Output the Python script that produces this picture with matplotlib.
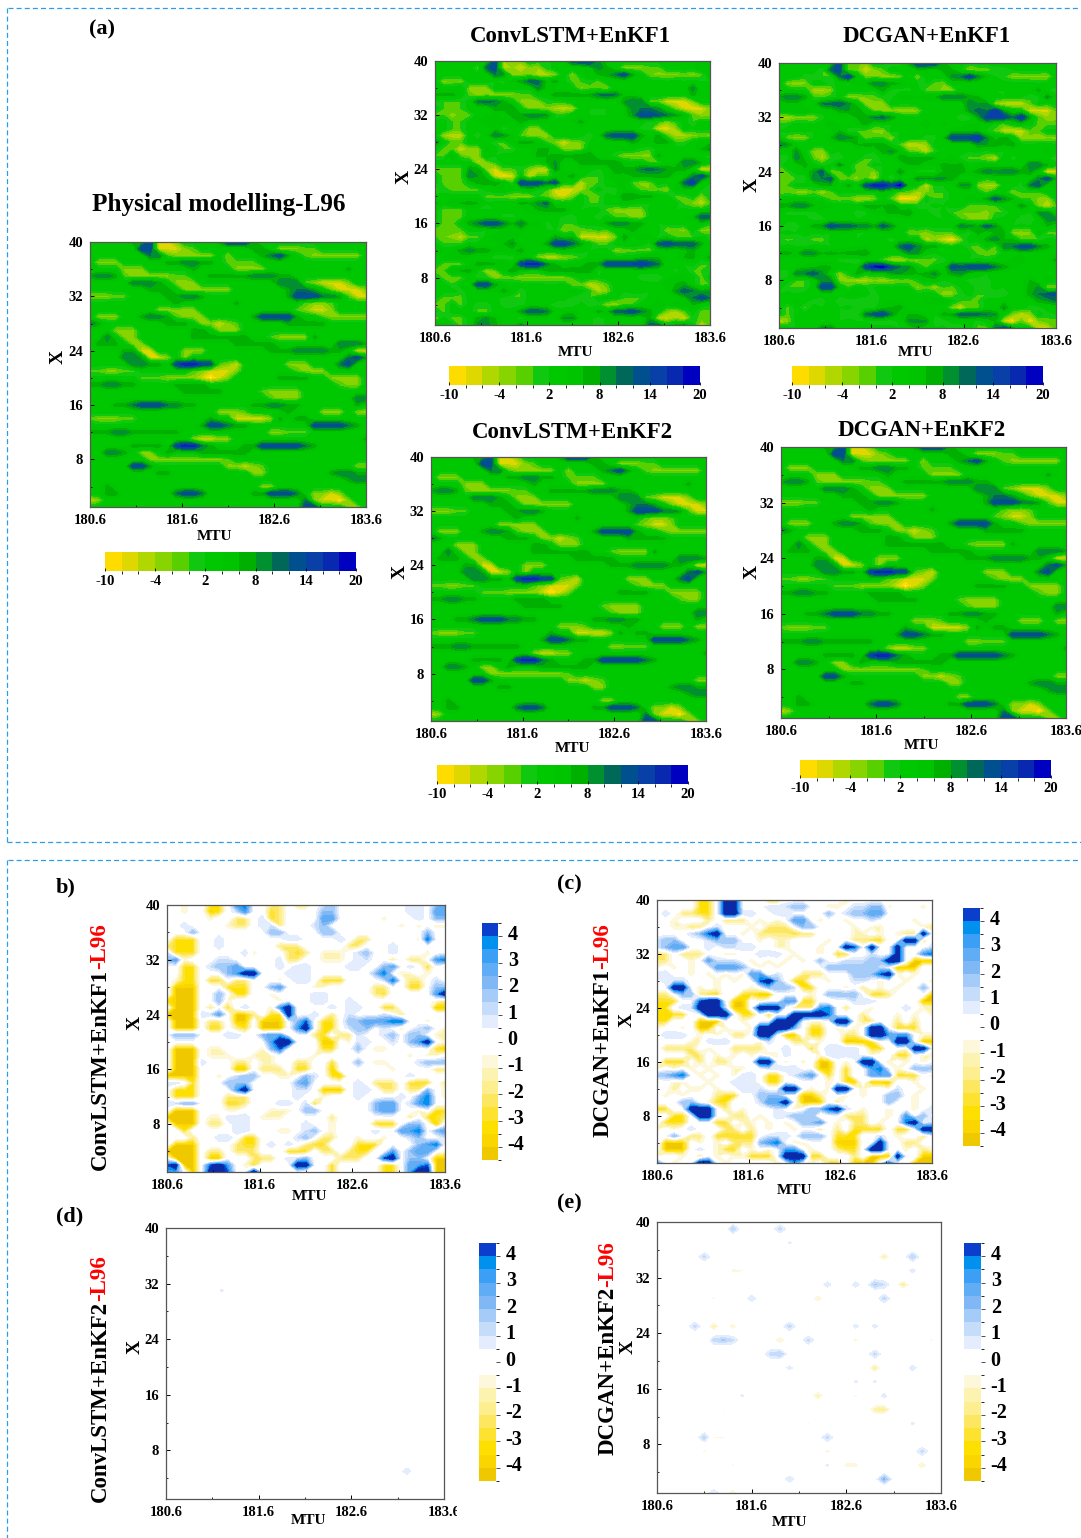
import numpy as np
import matplotlib
matplotlib.use("Agg")
import matplotlib.pyplot as plt
from matplotlib.colors import ListedColormap, BoundaryNorm
from matplotlib.cm import ScalarMappable
from matplotlib.lines import Line2D
from matplotlib.patches import Rectangle
from matplotlib.transforms import ScaledTranslation

plt.rcParams["font.family"] = ["Liberation Serif", "DejaVu Serif"]
plt.rcParams["font.weight"] = "bold"
plt.rcParams["axes.unicode_minus"] = False

W, H = 1081, 1538

# L96 state, rows X=40 down to X=1, 33 columns along MTU
truth_rows = [
    ".....ggbyyl....gbbbg.............",
    "......bbyyylm......gg.lllmm......",
    ".......ddmlllll.l...gdbg.mllllll.",
    ".lll.....ggddgg.mmmm.............",
    "....lll.....g....llll.........g..",
    "gddgmlllllmm..gggggdddgg.........",
    ".....dddg.lll.........dddmlyyyl..",
    ".......ggg.llllll......gddg.lyyyl",
    "lllmm....ggddg.........gbbbddgmyy",
    "..........g......g.......mllm....",
    "........lllll...........mlyyl....",
    ".lll..gddgmlll.....gbbbbg..mlllll",
    "dg.......ggg.llylm.....ggggg.....",
    "...lll......gg.lll...............",
    "..d.ll......ggggggg..mllllg......",
    ".ggg.ll..........ggggg.......dddg",
    "....ggyy...lll.......gggddddgg.yy",
    "....ddgyyl.l..................dbg",
    ".....ddgg.bBBbbmly.....lll...db..",
    "mmllmm......mlyyyl......mlll.....",
    "......mmmllllyYyl.....gggg..llll.",
    "ggddgg....gggg...............mll.",
    "...........ggggg....mllll........",
    ".....................mlll......dd",
    "...ggdbbbddgg......ggddgg......g.",
    "...............lllm....g...lll.ll",
    "mlllmm........g..yyyylg.gg.......",
    ".............gbbdgg.......bbbbdg.",
    "gggddgggggg..........llmmm.......",
    "............lyyll...............g",
    ".....gggg.bBBdg...ggbbbbbdg......",
    "..ddg.ll.g...gggggg..............",
    ".......lllllllllm................",
    ".....bbg........llylm..........ll",
    "........gg.........ll.......gddgg",
    "..............................gdd",
    "..g.................ll...........",
    "..gg......dbbd.....ggbbbd.llyl...",
    "yl.......................dlyyYl..",
    ".........................bb...ll.",
]
truth_codes = {".": 3, "m": -1, "l": -3, "y": -7, "Y": -11, "g": 7, "d": 10, "b": 14, "B": 18}

# ConvLSTM+EnKF1 minus L96
diff_b_rows = [
    "..a..cc.34..bb.bb.12........11.23",
    "..a..dc.13..cb....22........11.33",
    ".....a..bb.1cb....33.....a...1.22",
    "..1....abb.11b...12........a.a.aa",
    "...2........22....22..........2..",
    ".ccc..1.......11....1.bb.....a4..",
    "bccc..1......bbb.....bb...1......",
    "1ccc.....1a...bcb.aaa.12..1...a..",
    "23a...11.....1bb..aaa.11..b.bb.34",
    "..cc.1223....1.11....11..23.1.c.a",
    "..cc...2355...111.......24.aa.a..",
    ".acc.cc.bb...a.11.ccc....14.bb.1.",
    ".ddd...ccc..23...aa.....bb..cc.22",
    ".ddd..2.cc..a....11.....bc.....35",
    "cddd..2a.....a...11..1.........ab",
    ".ddd.b.c.1..a35....1.11..cc....dd",
    "dddd113.ddb.cc5..1.b.1...1.b.....",
    ".ddd.bb.dd.ddd.24.cc.2233344..a..",
    ".ddd.cc.bc.ddd.35.cc.122.1.a.12.a",
    ".222...11..233...bc.bb1..12.22.aa",
    "............355...dd.a11..1.235.a",
    ".ddd.aa....a24....cc..2.aa.....cd",
    ".ddd.aaa..aaa....a..........a.aa.",
    ".ddd1...bb.aa..bb..c..2.aa...1222",
    ".ddd....dd.bbb.cc..d......a....bb",
    "dddd..a.122..aa.21.cd.......1....",
    "11.c...222.....23.....1.bbb.ccc.b",
    ".ccc....35.....11.ddd.11.bb.bb2.a",
    ".ccc...bbb.....1..a...1....1.24.a",
    "1122...ccb...11.1c......233.134..",
    ".ddd...aa...aaa.22......233..a.cc",
    "dddd.aa111.aaa.....b........b.ccb",
    ".ddd.bb.11......1..a....ccc.22.d.",
    "..c.....11...aa.12.a....1..334.23",
    "...b..11.cc....12.bb..a..a..12..1",
    ".ddd....bcc.1.1.bcc...ccc....234.",
    "dddd.bb.bbb...ccc.bb.bcc..3.233.a",
    ".ddd.dd...bbb.112...bbb..45.22.dd",
    "45dd.453.ac....55..c.....cc.334dd",
    "33.d.554..5.....a..c.....cc.355dd",
]

# DCGAN+EnKF1 minus L96
diff_c_rows = [
    ".....cc.55...cc.......b..........",
    ".....cc.55...11122..aa.1122a...a.",
    ".1.bbcc.5511..11....2.12233......",
    "..a...b.bbb.a.a.33.a..a..1....a..",
    "..aabb.1...a.bbb.22....a.aa....ab",
    "....1245..a.bbbbcbb....aa.a.abb5.",
    "122...1222..a.aa....a..bbcc..55b.",
    "1233..1.1111..aa...a..54.5..5...1",
    "bb.bbb..aa..111.a..a.cc..1..5..34",
    "bb..a.3111.a.a.a.a.2..1112255.ddd",
    "a.a.a..3332.a.a.....2222221.ddd..",
    "11..a.a.a.a33a1..bbb...22245a.a..",
    ".111...a.a..452.cc..a..11.a..a..a",
    "..55.a.a...a.2221cc...a.b.a.a..2.",
    "bb.22bcc..ccdd....a.2222.ccb....d",
    "ccc..455.dd.a..33cc.a..111.....dd",
    "cc.115551dd.555.bbb34.b..a...1.aa",
    "cccc..555.cc.c..55554...b...a.a.a",
    "cc...ddd..a...555.aa.55.bb..b.b..",
    "a..a.dd.a..a55552.cc.a.a.55.ccc..",
    ".111.a.a.bb.55.dd.cc..bb.55333.aa",
    "....aa111...a1..bb.a..dddc..55.dd",
    ".bbbb.a..bbbb..1..c.1111.cc..a55.",
    "....bb.a.a.a.aa1...a1111.a..cc.aa",
    ".ccc.b.bb...55.a.a.dd.a.55.a.a.a.",
    "a.a.a.a..aa..1111..dd.c..34.a.222",
    "2234.a.a.a11.cc.123.c.c..333ccc.a",
    "a.aa..a..111.cc.a...a.cd.ddd..a..",
    "..b.aa.a..111..55.a.a55.a..a1..a.",
    ".a.a...bcc..222..ddb..a.a..22.a..",
    "...22.acc...1335.ddd.b.....2..a..",
    "cc..555.b.a...1.a.22451.a..a..a.1",
    "..cc.55..bb.a.11222a..bbb..a.3.2.",
    ".ccc...cc.aa.a.a.223.a.bb.a..45.1",
    "a.a.1...bb.b.a..a..b.b.cccc.cc.55",
    "..2.bb.ccccc.111.222.ccc..1.a..b.",
    ".ddd.a.a.bbb234.aa...ddd..5..bb..",
    ".ddd.1.acc.a.a.33.a..bcc.55..a.ba",
    "a..a.b.a.aaccc.555cc...b.ddd5..dd",
    "3.a..55.a.....a.3.a.cc.ddd.4..ddd",
]
diff_codes = {".": 0, "a": -1, "b": -2, "c": -3, "d": -4, "e": -5,
              "1": 1, "2": 2, "3": 3, "4": 4, "5": 5.5}

# isolated spots of the EnKF2 differences
spot_d_mtu = [181.16, 181.10, 181.78, 183.30, 183.22, 182.70, 181.13, 183.50, 182.30]
spot_d_x = [31, 25, 23, 33, 5, 17, 2, 39, 13]
spot_d_val = [0.6, -0.6, -0.55, -0.55, 0.9, -0.55, -0.6, -0.55, -0.55]

spot_e_mtu = [181.14, 181.25, 181.37, 181.44, 181.92, 182.94, 181.43, 181.62, 181.90, 181.96,
              182.94, 181.14, 182.98, 183.25, 181.35, 181.48, 183.26, 182.38, 182.68, 182.94,
              183.01, 183.24, 181.18, 181.62, 182.34, 183.00, 182.02, 181.01, 181.18, 181.42,
              182.04, 182.17, 182.68, 182.87, 183.10, 181.21, 181.27, 181.35, 181.05, 181.94,
              182.22, 182.66, 183.46, 181.79, 181.87, 182.94, 182.92, 183.25, 183.56, 182.00,
              182.68, 182.88, 182.33, 182.68, 183.01, 181.46, 182.88, 182.97, 181.90, 182.61,
              181.26, 182.02, 182.20, 183.29, 181.08, 181.22, 181.32, 182.35, 182.95, 181.05,
              182.36, 183.41, 181.18, 181.37, 182.38, 182.55, 182.62, 182.68, 183.37, 182.96,
              181.96, 181.18, 181.35, 183.54, 182.89]
spot_e_x = [39, 39, 39, 39, 39, 39, 37, 37, 37, 37,
            37, 35, 35, 35, 33, 33, 33, 31, 31, 31,
            31, 31, 29, 29, 29, 29, 29, 25, 25, 25,
            25, 25, 25, 25, 25, 23, 23, 23, 23, 23,
            23, 23, 23, 21, 21, 21, 19, 19, 19, 19,
            17, 17, 15, 15, 15, 15, 13, 13, 13, 13,
            13, 11, 11, 11, 9, 9, 9, 9, 9, 7,
            7, 7, 5, 5, 5, 5, 5, 5, 5, 3,
            3, 1, 1, 1, 1]
spot_e_val = [-0.6, -0.7, 1.5, 1.5, 1.2, -0.5, -0.6, -0.5, -0.5, 0.6,
              -0.6, 1.2, -1.5, 1.5, -0.7, -0.6, 0.7, 0.8, 0.8, 1.6,
              1.0, -1.8, -0.7, 0.9, -1.2, 1.3, -0.5, 1.2, -1.5, -1.0,
              1.3, -0.6, 0.7, 0.7, -0.5, 1.2, 1.6, 1.1, -0.6, -1.2,
              1.2, -0.8, -0.7, 1.2, 1.5, 1.2, -1.8, 0.8, -0.7, 0.7,
              0.6, 0.6, -1.5, -0.7, 0.7, 0.6, -1.5, -2.0, -0.6, -0.6,
              -0.6, -0.6, -0.6, 0.6, 1.4, -0.6, -0.6, 1.2, -0.6, -0.7,
              -0.8, 1.2, -0.6, -0.7, 0.6, -0.7, -0.8, -0.8, -1.3, 2.2,
              0.9, 1.0, -1.2, -0.8, -0.6]

field_levels = np.arange(-10, 21, 2)
field_colors = ["#ffdc00", "#dfd800", "#b0d800", "#88d400", "#58d000", "#10c810", "#00c800",
                "#00c400", "#00b000", "#009030", "#006858", "#005090", "#0840a8", "#0828b0", "#0000c0"]
field_ticks = [-10, -4, 2, 8, 14, 20]

diff_levels = np.arange(-4.5, 4.6, 0.5)
diff_colors = ["#f0c800", "#fbd500", "#fddf00", "#fde230", "#fde760", "#fdee90", "#fdf3b0", "#fdf8dc",
               "#ffffff", "#ffffff",
               "#e3edfd", "#c5dcfb", "#a5cbf8", "#80b8f5", "#60acf5", "#3a9ff5", "#0090ee", "#0b3fcb"]
diff_ticks = [-4, -3, -2, -1, 0, 1, 2, 3, 4]
diff_ticklabels = ["-4", "-3", "-2", "-1", "0", "1", "2", "3", "4"]

mtu_ticks = [180.6, 181.6, 182.6, 183.6]
mtu_minor = [181.1, 182.1, 183.1]
x_ticks = [8, 16, 24, 32, 40]
x_minor = [4, 12, 20, 28, 36]


def decodificar(linhas, codigos):
    # rows come top to bottom, contourf wants X increasing
    grade = [[codigos[c] for c in linha.ljust(33, ".")[:33]] for linha in linhas]
    return np.array(grade[::-1], dtype=float)


def grade_pontos(mtu, x, val):
    grade = np.zeros((40, 31))
    for m, xx, v in zip(mtu, x, val):
        col = int(round((m - 180.6) / 0.1))
        if abs(v) > abs(grade[xx - 1, col]):
            grade[xx - 1, col] = v
    return grade


def caixa(fig, esq, topo, dir, base):
    return fig.add_axes([esq / W, 1 - base / H, (dir - esq) / W, (base - topo) / H])


def texto(fig, x, y, s, **kw):
    return fig.text(x / W, 1 - y / H, s, ha=kw.pop("ha", "center"), va=kw.pop("va", "center"), **kw)


def desenha_campo(fig, z, box, cmap, norm, levels, extend="neither", cor_borda="#555555", tam=10.5):
    ax = caixa(fig, *box)
    mtu = np.linspace(180.6, 183.6, z.shape[1])
    xs = np.arange(1, 41)
    ax.contourf(mtu, xs, z, levels=levels, cmap=cmap, norm=norm, extend=extend, antialiased=False)
    ax.set_xlim(180.6, 183.6)
    ax.set_ylim(1, 40)
    ax.set_xticks(mtu_ticks)
    ax.set_xticklabels(["180.6", "181.6", "182.6", "183.6"], fontsize=tam)
    ax.set_xticks(mtu_minor, minor=True)
    ax.set_yticks(x_ticks)
    ax.set_yticks(x_minor, minor=True)
    ax.tick_params(axis="y", labelsize=tam, direction="in", length=3, width=0.7, pad=5)
    ax.tick_params(axis="x", direction="in", length=3, width=0.7, pad=5)
    ax.tick_params(which="minor", direction="in", length=1.5, width=0.6)
    for lado in ax.spines.values():
        lado.set_color(cor_borda)
        lado.set_linewidth(0.9)
    return ax


def barra_h(fig, box, cmap, norm):
    cax = caixa(fig, *box)
    cb = fig.colorbar(ScalarMappable(norm=norm, cmap=cmap), cax=cax, orientation="horizontal",
                      ticks=field_ticks)
    cb.outline.set_visible(False)
    cb.ax.tick_params(labelsize=10.5, length=2, width=0.6, pad=3, direction="in")
    cb.ax.set_xticklabels([str(t) for t in field_ticks])


def barra_v(fig, box, cmap, norm):
    cax = caixa(fig, *box)
    cb = fig.colorbar(ScalarMappable(norm=norm, cmap=cmap), cax=cax, ticks=diff_ticks)
    cb.outline.set_visible(False)
    cb.ax.tick_params(labelsize=14.5, length=3, width=0.6, pad=4, direction="out", color="#333333")
    cb.ax.set_yticklabels(diff_ticklabels)
    # in the original the numbers sit a little above their ticks
    sobe = ScaledTranslation(0, 4 / 100, fig.dpi_scale_trans)
    for rotulo in cb.ax.get_yticklabels():
        rotulo.set_transform(rotulo.get_transform() + sobe)


def rotulo_lateral(fig, x, y_base, nome):
    render = fig.canvas.get_renderer()
    t = texto(fig, x, y_base, nome, rotation=90, ha="center", va="bottom", fontsize=16.5)
    caixa_txt = t.get_window_extent(render)
    texto(fig, x, y_base - caixa_txt.height, "-L96", rotation=90, ha="center", va="bottom",
          fontsize=16.5, color="red")


truth = decodificar(truth_rows, truth_codes)
diff_b = decodificar(diff_b_rows, diff_codes)
diff_c = decodificar(diff_c_rows, diff_codes)
diff_d = grade_pontos(spot_d_mtu, spot_d_x, spot_d_val)
diff_e = grade_pontos(spot_e_mtu, spot_e_x, spot_e_val)

conv1 = np.clip(truth + diff_b, -9.9, 19.9)
dcgan1 = np.clip(truth + diff_c, -9.9, 19.9)

cmap_f = ListedColormap(field_colors)
norm_f = BoundaryNorm(field_levels, cmap_f.N)
cmap_d = ListedColormap(diff_colors)
cmap_d.set_over("#0a2aa8")
cmap_d.set_under("#e8bc00")
norm_d = BoundaryNorm(diff_levels, cmap_d.N)

fig = plt.figure(figsize=(W / 100, H / 100), dpi=100)
fig.patch.set_facecolor("white")

# painel (a)
paineis_a = [
    (truth, (90, 242, 366, 507), (105, 552, 356, 571), "Physical modelling-L96", (219, 204), (215, 537), (58, 357), 18.2),
    (conv1, (435, 61, 710, 325), (449, 366, 700, 385), "ConvLSTM+EnKF1", (570, 36), (576, 353), (404, 177), 16.5),
    (dcgan1, (779, 63, 1056, 328), (792, 366, 1043, 385), "DCGAN+EnKF1", (927, 37), (916, 353), (752, 185), 16.5),
    (truth, (431, 457, 706, 721), (437, 765, 688, 784), "ConvLSTM+EnKF2", (572, 432), (573, 749), (400, 572), 16.5),
    (truth, (781, 447, 1066, 718), (800, 760, 1051, 778), "DCGAN+EnKF2", (922, 430), (922, 745), (752, 572), 16.5),
]
for z, box, bar, titulo, p_tit, p_mtu, p_x, tam_tit in paineis_a:
    desenha_campo(fig, z, box, cmap_f, norm_f, field_levels)
    barra_h(fig, bar, cmap_f, norm_f)
    texto(fig, p_tit[0], p_tit[1], titulo, fontsize=tam_tit)
    texto(fig, p_mtu[0], p_mtu[1], "MTU", fontsize=11)
    texto(fig, p_x[0], p_x[1], "X", fontsize=14, rotation=90)

# paineis de diferenca
paineis_d = [
    (diff_b, (167, 905, 445, 1172), (482, 923, 498, 1160), "ConvLSTM+EnKF1", (100, 1170), (310, 1196), (135, 1023)),
    (diff_c, (657, 900, 932, 1163), (963, 908, 980, 1146), "DCGAN+EnKF1", (603, 1137), (795, 1190), (627, 1020)),
    (diff_d, (166, 1228, 444, 1499), (479, 1243, 496, 1481), "ConvLSTM+EnKF2", (100, 1502), (309, 1520), (135, 1347)),
    (diff_e, (657, 1222, 941, 1493), (964, 1243, 981, 1481), "DCGAN+EnKF2", (608, 1455), (790, 1522), (628, 1347)),
]
for z, box, bar, nome, p_nome, p_mtu, p_x in paineis_d:
    desenha_campo(fig, z, box, cmap_d, norm_d, diff_levels, extend="both")
    barra_v(fig, bar, cmap_d, norm_d)
    rotulo_lateral(fig, p_nome[0], p_nome[1], nome)
    texto(fig, p_mtu[0], p_mtu[1], "MTU", fontsize=11)
    texto(fig, p_x[0], p_x[1], "X", fontsize=14, rotation=90)

texto(fig, 102, 29, "(a)", fontsize=16)
texto(fig, 66, 887, "b)", fontsize=16)
texto(fig, 569, 884, "(c)", fontsize=16)
texto(fig, 70, 1216, "(d)", fontsize=16)
texto(fig, 569, 1203, "(e)", fontsize=16)

# molduras tracejadas
moldura = [((8, W), (8, 8)), ((7, 7), (8, 842)), ((7, W), (842, 842)),
           ((8, W), (860, 860)), ((7, 7), (860, 1538))]
for xs, ys in moldura:
    fig.add_artist(Line2D([x / W for x in xs], [1 - y / H for y in ys], color="#2f9be8",
                          lw=0.9, ls=(0, (4, 2.5))))

# o rotulo 183.6 do painel (d) sai cortado na figura original
fig.add_artist(Rectangle((457 / W, 1 - 1518 / H), 6 / W, 18 / H, transform=fig.transFigure,
                         facecolor="white", edgecolor="none", zorder=10))

fig.savefig("out.png", dpi=100)
